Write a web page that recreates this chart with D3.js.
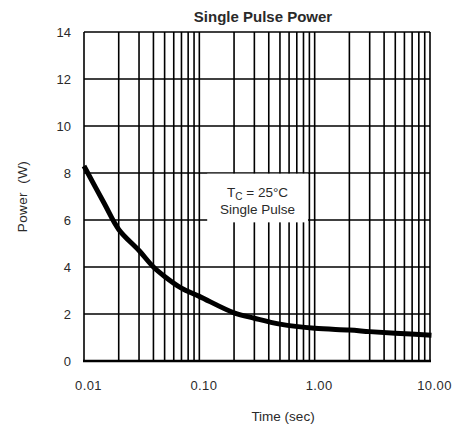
<!DOCTYPE html>
<html>
<head>
<meta charset="utf-8">
<script src="https://cdn.jsdelivr.net/npm/d3@7"></script>
<style>
  body { margin: 0; background: #fff; }
  svg text { font-family: "Liberation Sans", Arial, Helvetica, sans-serif; fill: #2a2a2a; }
</style>
</head>
<body>
<svg id="chart" width="452" height="428"></svg>
<script>
// values
const times = [0.01, 0.015, 0.02, 0.03, 0.04, 0.05, 0.07, 0.1, 0.2, 0.3, 0.5, 1, 2, 3, 5, 10.3];
const power = [8.3, 6.7, 5.6, 4.7, 4.0, 3.6, 3.1, 2.75, 2.05, 1.82, 1.57, 1.39, 1.32, 1.25, 1.18, 1.1];

const xTicks = [0.01, 0.1, 1, 10];
const xTickLabels = ["0.01", "0.10", "1.00", "10.00"];
const yTicks = [0, 2, 4, 6, 8, 10, 12, 14];

const svg = d3.select("#chart");
// plot edges (note: "top" is taken by window.top)
const pLeft = 84, pRight = 430, pTop = 32, pBottom = 361;

const x = d3.scaleLog().domain([0.01, 10]).range([pLeft, pRight]);
const y = d3.scaleLinear().domain([0, 14]).range([pBottom, pTop]);

// minor + major vertical grid: 1..9 in every decade
const gridX = [];
for (let d = 0.01; d < 10; d *= 10) {
    for (let k = 1; k <= 9; k++) gridX.push(+(d * k).toPrecision(3));
}
gridX.push(10);

const grid = svg.append("g");
grid.selectAll("line.v").data(gridX).join("line")
    .attr("class", "v")
    .attr("x1", d => x(d)).attr("x2", d => x(d))
    .attr("y1", pTop).attr("y2", pBottom)
    .attr("stroke", "#000").attr("stroke-width", 1.6);
grid.selectAll("line.h").data(yTicks).join("line")
    .attr("class", "h")
    .attr("x1", pLeft).attr("x2", pRight)
    .attr("y1", d => y(d)).attr("y2", d => y(d))
    .attr("stroke", "#000").attr("stroke-width", 1.6);
// bottom edge a bit heavier
grid.append("line")
    .attr("x1", pLeft - 1).attr("x2", pRight + 1)
    .attr("y1", y(0)).attr("y2", y(0))
    .attr("stroke", "#000").attr("stroke-width", 2.4);

// annotation box hides the grid behind it
const bx = x(0.117), bw = x(0.875) - bx;
const by = y(7.97), bh = y(5.9) - by;
svg.append("rect")
    .attr("x", bx).attr("y", by).attr("width", bw).attr("height", bh)
    .attr("fill", "#fff");
const note = svg.append("text")
    .attr("x", bx + bw / 2).attr("y", by + 23)
    .attr("text-anchor", "middle").attr("font-size", 13.5);
note.append("tspan").text("T");
note.append("tspan").attr("font-size", 10).attr("dy", 3).text("C");
note.append("tspan").attr("dy", -3).text(" = 25°C");
svg.append("text")
    .attr("x", bx + bw / 2).attr("y", by + 40)
    .attr("text-anchor", "middle").attr("font-size", 13.5)
    .text("Single Pulse");

// curve
const line = d3.line()
    .x((d, i) => x(times[i]))
    .y(d => y(d))
    .curve(d3.curveCatmullRom);
svg.append("path")
    .datum(power)
    .attr("d", line)
    .attr("fill", "none")
    .attr("stroke", "#000")
    .attr("stroke-width", 5)
    .attr("stroke-linecap", "butt");

// axes (labels only)
const xAxis = d3.axisBottom(x).tickValues(xTicks)
    .tickFormat((d, i) => xTickLabels[i]).tickSize(0).tickPadding(0);
const gx = svg.append("g").attr("transform", `translate(4,${pBottom + 29})`).call(xAxis);
gx.select(".domain").remove();
gx.selectAll("text").attr("font-size", 13).attr("dy", 0)
    .attr("fill", "#2a2a2a").style("letter-spacing", "0.4px");

const yAxis = d3.axisLeft(y).tickValues(yTicks).tickSize(0).tickPadding(0);
const gy = svg.append("g").attr("transform", `translate(${pLeft - 13},0)`).call(yAxis);
gy.select(".domain").remove();
gy.selectAll("text").attr("font-size", 13).attr("fill", "#2a2a2a");

// titles
svg.append("text")
    .attr("x", 263).attr("y", 22)
    .attr("text-anchor", "middle")
    .attr("font-size", 15).attr("font-weight", "bold")
    .text("Single Pulse Power");
svg.append("text")
    .attr("x", 283).attr("y", 421)
    .attr("text-anchor", "middle").attr("font-size", 13.5)
    .text("Time (sec)");
svg.append("text")
    .attr("transform", `translate(27,${(pTop + pBottom) / 2}) rotate(-90)`)
    .attr("text-anchor", "middle").attr("font-size", 13.5)
    .style("white-space", "pre").style("letter-spacing", "0.4px")
    .text("Power  (W)");
</script>
</body>
</html>
